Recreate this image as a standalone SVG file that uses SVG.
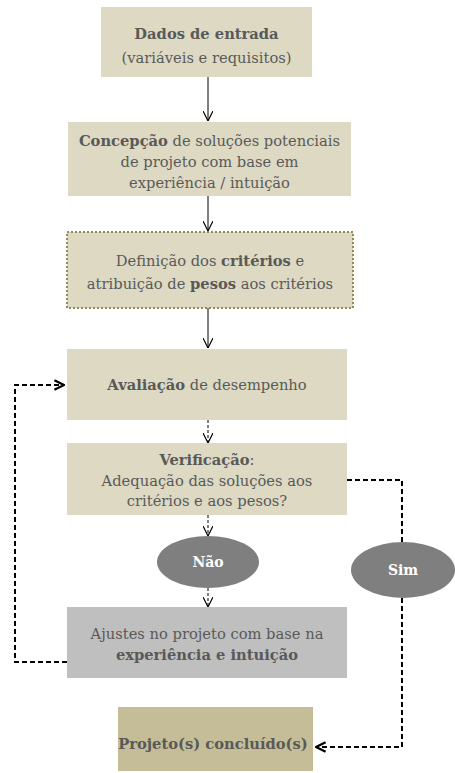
<svg xmlns="http://www.w3.org/2000/svg" width="455" height="773" viewBox="0 0 455 773">
<style>
.box{fill:#ddd9c3}
.t{font-family:"DejaVu Serif","Liberation Serif",serif;font-size:14.7px;fill:#595959;text-anchor:middle}
.b{font-weight:bold}
.e{fill:#7f7f7f}
.et{font-family:"DejaVu Serif","Liberation Serif",serif;font-size:14px;font-weight:bold;fill:#ffffff;text-anchor:middle}
.solid{stroke:#000;stroke-width:1;fill:none}
.thin{stroke:#000;stroke-width:1;stroke-dasharray:3 2;fill:none}
.thick{stroke:#000;stroke-width:2;stroke-dasharray:5 3;fill:none}
</style>
<defs>
<marker id="ah" viewBox="0 0 10 10" refX="10" refY="5" markerWidth="10" markerHeight="10" markerUnits="userSpaceOnUse" orient="auto">
<path d="M0,0 L10,5 L0,10" fill="none" stroke="#000" stroke-width="1.2"/>
</marker>
<marker id="ahb" viewBox="0 0 10 10" refX="9" refY="5" markerWidth="12" markerHeight="12" markerUnits="userSpaceOnUse" orient="auto">
<path d="M1,1 L9,5 L1,9" fill="none" stroke="#000" stroke-width="2"/>
</marker>
</defs>
<rect width="455" height="773" fill="#fff"/>
<g id="connectors">
<line class="solid" x1="208" y1="77" x2="208" y2="121" marker-end="url(#ah)"/>
<line class="solid" x1="208" y1="196" x2="208" y2="231" marker-end="url(#ah)"/>
<line class="solid" x1="208" y1="308" x2="208" y2="348" marker-end="url(#ah)"/>
<line class="thin" x1="208" y1="420" x2="208" y2="443" marker-end="url(#ah)"/>
<line class="thin" x1="208" y1="515" x2="208" y2="536" marker-end="url(#ah)"/>
<line class="thin" x1="208" y1="588" x2="208" y2="607" marker-end="url(#ah)"/>
<polyline class="thick" points="67,662 15,662 15,385 64,385" marker-end="url(#ahb)"/>
<polyline class="thick" points="347,480 402,480 402,542"/>
<polyline class="thick" points="402,598 402,747 316,747" marker-end="url(#ahb)"/>
</g>
<g id="n1">
<rect class="box" x="101" y="7" width="211" height="70"/>
<text class="t" x="206.5" y="39"><tspan class="b">Dados de entrada</tspan></text>
<text class="t" x="206.5" y="63">(variáveis e requisitos)</text>
</g>
<g id="n2">
<rect class="box" x="68" y="122" width="283" height="74"/>
<text class="t" x="209.5" y="146"><tspan class="b">Concepção</tspan> de soluções potenciais</text>
<text class="t" x="209.5" y="167">de projeto com base em</text>
<text class="t" x="209.5" y="188">experiência / intuição</text>
</g>
<g id="n3">
<rect class="box" x="67" y="232" width="286" height="76" stroke="#948a54" stroke-width="2" stroke-dasharray="2 2"/>
<text class="t" x="210" y="266">Definição dos <tspan class="b">critérios</tspan> e</text>
<text class="t" x="210" y="289">atribuição de <tspan class="b">pesos</tspan> aos critérios</text>
</g>
<g id="n4">
<rect class="box" x="67" y="349" width="280" height="71"/>
<text class="t" x="207" y="390"><tspan class="b">Avaliação</tspan> de desempenho</text>
</g>
<g id="n5">
<rect class="box" x="67" y="443" width="280" height="72"/>
<text class="t" x="207" y="465"><tspan class="b">Verificação</tspan>:</text>
<text class="t" x="207" y="486">Adequação das soluções aos</text>
<text class="t" x="207" y="506">critérios e aos pesos?</text>
</g>
<g id="nao">
<ellipse class="e" cx="208" cy="562" rx="51" ry="26"/>
<text class="et" x="208" y="567">Não</text>
</g>
<g id="sim">
<ellipse class="e" cx="403" cy="570" rx="52" ry="28"/>
<text class="et" x="403" y="575">Sim</text>
</g>
<g id="n6">
<rect x="67" y="607" width="280" height="71" fill="#bfbfbf"/>
<text class="t" x="207" y="639">Ajustes no projeto com base na</text>
<text class="t b" x="207" y="660">experiência e intuição</text>
</g>
<g id="n7">
<rect x="118" y="707" width="195" height="64" fill="#c4bd97"/>
<text class="t b" x="213" y="749">Projeto(s) concluído(s)</text>
</g>
</svg>
